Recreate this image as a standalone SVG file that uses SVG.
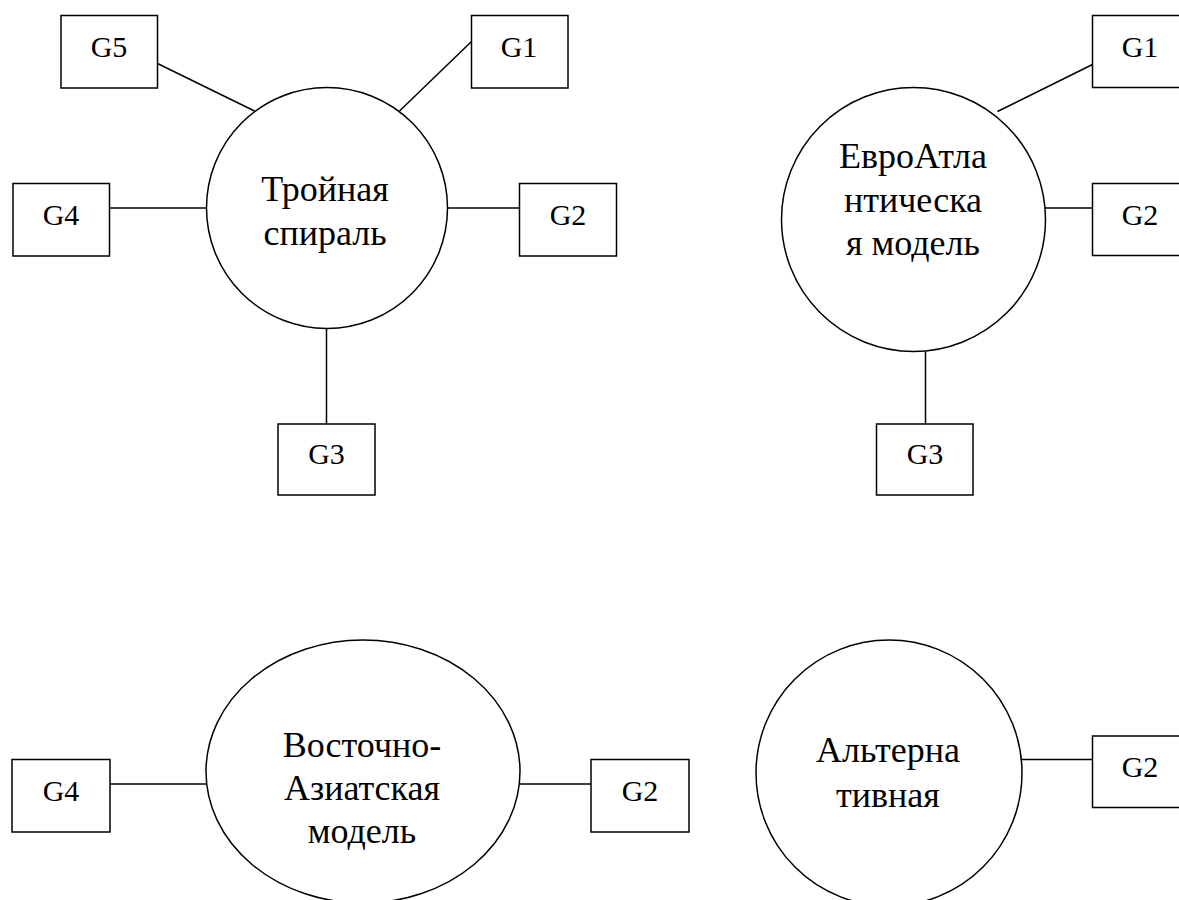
<svg xmlns="http://www.w3.org/2000/svg" width="1179" height="900" viewBox="0 0 1179 900">
<style>
.b{fill:#fff;stroke:#000;stroke-width:1.5}
.c{fill:#fff;stroke:#000;stroke-width:1.5}
.l{stroke:#000;stroke-width:1.5;fill:none}
.bt{font-family:"Liberation Serif","Times New Roman",serif;font-size:30px;text-anchor:middle;fill:#000}
.ct{font-family:"Liberation Serif","Times New Roman",serif;font-size:36px;text-anchor:middle;fill:#000}
</style>
<rect width="1179" height="900" fill="#fff"/>
<g id="connectors">
<line class="l" x1="157.5" y1="63.5" x2="254.5" y2="111"/>
<line class="l" x1="471.5" y1="41.5" x2="399.5" y2="111"/>
<line class="l" x1="109.5" y1="208" x2="206" y2="208"/>
<line class="l" x1="448" y1="208" x2="519.5" y2="208"/>
<line class="l" x1="326.5" y1="328" x2="326.5" y2="424"/>
<line class="l" x1="1092.5" y1="64.5" x2="997.5" y2="111.5"/>
<line class="l" x1="1045" y1="208" x2="1092.5" y2="208"/>
<line class="l" x1="925.5" y1="351.5" x2="925.5" y2="424"/>
<line class="l" x1="110" y1="784" x2="206.5" y2="784"/>
<line class="l" x1="519.5" y1="784" x2="591" y2="784"/>
<line class="l" x1="1022" y1="759.5" x2="1092.5" y2="759.5"/>
</g>
<g id="triple">
<circle class="c" cx="327" cy="208" r="120.5"/>
<text class="ct" x="325" y="201">Тройная</text>
<text class="ct" x="325" y="245">спираль</text>
</g>
<g id="tl-g5"><rect class="b" x="61" y="15.5" width="96.5" height="72.5"/><text class="bt" x="109" y="56.5">G5</text></g>
<g id="tl-g1"><rect class="b" x="471.5" y="15.5" width="96.5" height="72.5"/><text class="bt" x="519" y="56.5">G1</text></g>
<g id="tl-g4"><rect class="b" x="13" y="183.5" width="96.5" height="72.5"/><text class="bt" x="61" y="225">G4</text></g>
<g id="tl-g2"><rect class="b" x="519.5" y="183.5" width="97" height="72.5"/><text class="bt" x="568" y="225">G2</text></g>
<g id="tl-g3"><rect class="b" x="278" y="424" width="97" height="71"/><text class="bt" x="326.5" y="464">G3</text></g>
<g id="euroatlantic">
<circle class="c" cx="913.5" cy="219.5" r="132"/>
<text class="ct" x="913" y="167.5">ЕвроАтла</text>
<text class="ct" x="913" y="211.5">нтическа</text>
<text class="ct" x="913" y="255">я модель</text>
</g>
<g id="tr-g1"><rect class="b" x="1092.5" y="15.5" width="97" height="72"/><text class="bt" x="1140" y="56.5">G1</text></g>
<g id="tr-g2"><rect class="b" x="1092.5" y="183.5" width="97" height="72"/><text class="bt" x="1140" y="225">G2</text></g>
<g id="tr-g3"><rect class="b" x="876.5" y="424" width="96.5" height="71"/><text class="bt" x="925" y="464">G3</text></g>
<g id="eastasian">
<ellipse class="c" cx="363" cy="771.5" rx="157" ry="131.5"/>
<text class="ct" x="362" y="756.5">Восточно-</text>
<text class="ct" x="362" y="800">Азиатская</text>
<text class="ct" x="362" y="843">модель</text>
</g>
<g id="bl-g4"><rect class="b" x="12" y="759.5" width="98" height="72.5"/><text class="bt" x="61" y="800.5">G4</text></g>
<g id="bl-g2"><rect class="b" x="591" y="759.5" width="98" height="72.5"/><text class="bt" x="640" y="800.5">G2</text></g>
<g id="alternative">
<circle class="c" cx="889" cy="773" r="133"/>
<text class="ct" x="888" y="761.5">Альтерна</text>
<text class="ct" x="888" y="806.5">тивная</text>
</g>
<g id="br-g2"><rect class="b" x="1092.5" y="736" width="97" height="71.5"/><text class="bt" x="1140" y="777">G2</text></g>
</svg>
